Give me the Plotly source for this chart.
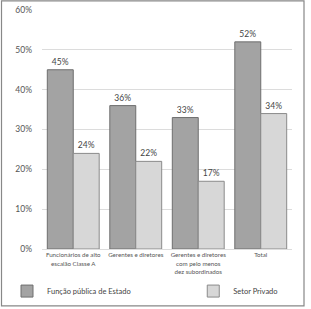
import plotly.graph_objects as go

categories = ["Funcionários de alto<br>escalão Classe A", "Gerentes e diretores",
              "Gerentes e diretores<br>com pelo menos<br>dez subordinados", "Total"]
publica = [45, 36, 33, 52]
privado = [24, 22, 17, 34]
publica_labels = ["45%", "36%", "33%", "52%"]
privado_labels = ["24%", "22%", "17%", "34%"]
series_names = ["Função pública de Estado", "Setor Privado"]
y_ticks = [0, 10, 20, 30, 40, 50, 60]
y_tick_text = ["0%", "10%", "20%", "30%", "40%", "50%", "60%"]

fig = go.Figure()
fig.add_trace(go.Bar(x=categories, y=publica, name=series_names[0],
                     text=publica_labels, textposition="outside", cliponaxis=False,
                     marker=dict(color="#a3a3a3", line=dict(color="#6e6e6e", width=1)),
                     textfont=dict(size=8.5, color="#444"), legend="legend"))
fig.add_trace(go.Bar(x=categories, y=privado, name=series_names[1],
                     text=privado_labels, textposition="outside", cliponaxis=False,
                     marker=dict(color="#d7d7d7", line=dict(color="#8a8a8a", width=1)),
                     textfont=dict(size=8.5, color="#444"), legend="legend2"))

legend_common = dict(orientation="h", yanchor="middle", xanchor="left", y=-0.176,
                     font=dict(size=7.5, color="#444"), bgcolor="rgba(0,0,0,0)")
fig.update_layout(
    width=311, height=309,
    margin=dict(l=42, r=19, t=10, b=60, autoexpand=False),
    barmode="group", bargap=0.17, bargroupgap=0,
    plot_bgcolor="white", paper_bgcolor="white",
    font=dict(family="Lato", color="#444"),
    showlegend=True,
    legend=dict(x=-0.14, **legend_common),
    legend2=dict(x=0.605, **legend_common),
    uniformtext=dict(minsize=6, mode="show"),
)
fig.update_yaxes(range=[0, 60], tickvals=y_ticks, ticktext=y_tick_text, automargin=False,
                 showgrid=True, gridcolor="#dcdcdc", gridwidth=1,
                 zeroline=False, showline=False,
                 tickfont=dict(size=8.5, color="#555"), ticks="", ticklabelstandoff=9)
fig.update_xaxes(showline=True, linecolor="#dcdcdc", tickfont=dict(size=6.2, color="#555"),
                 ticks="", tickangle=0, automargin=False)
fig.add_shape(type="rect", xref="paper", yref="paper",
              x0=-0.162, x1=1.048, y0=-0.238, y1=1.038,
              line=dict(color="#888", width=1.2), fillcolor="rgba(0,0,0,0)", layer="above")
fig.write_html("out.html")
